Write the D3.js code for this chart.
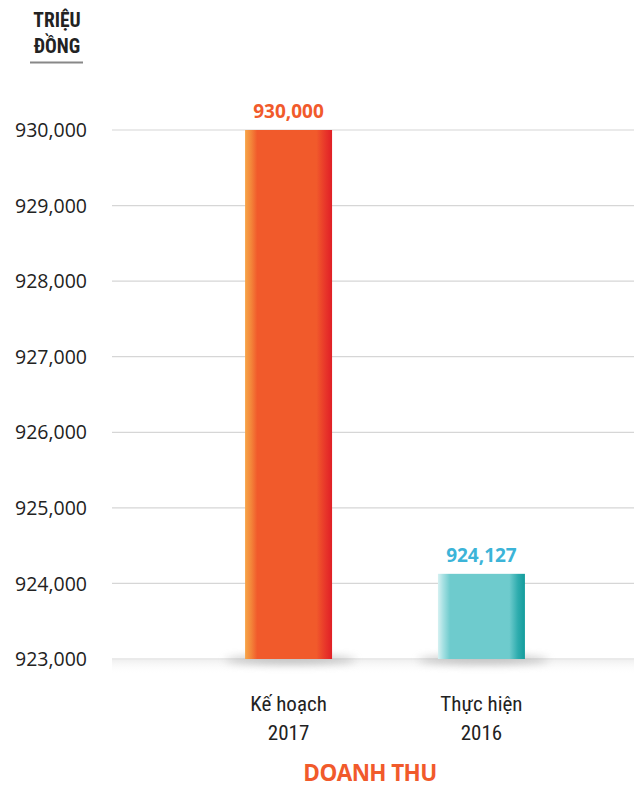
<!DOCTYPE html>
<html>
<head>
<meta charset="utf-8">
<script src="https://cdn.jsdelivr.net/npm/d3@7"></script>
<style>
  html, body { margin: 0; padding: 0; background: #fff; }
  svg { display: block; }
</style>
</head>
<body>
<svg id="chart" width="634" height="787"></svg>
<script>
// Revenue: 2017 plan vs 2016 actual (million VND)
const categories = [["Kế hoạch", "2017"], ["Thực hiện", "2016"]];
const values = [930000, 924127];
const tickValues = [923000, 924000, 925000, 926000, 927000, 928000, 929000, 930000];
const labelColors = ["#f15a2b", "#3cb4d8"];
const unitLabel = ["TRIỆU", "ĐỒNG"];
const title = "DOANH THU";

const svg = d3.select("#chart");
const W = 634, H = 787;
const narrow = "'Liberation Sans Narrow', 'Roboto Condensed', 'DejaVu Sans Condensed', sans-serif";
const regular = "'Open Sans', 'Noto Sans', sans-serif";

const x = d3.scaleBand().domain(d3.range(categories.length)).range([139, 631]).paddingInner(0.549).paddingOuter(0.55);
const y = d3.scaleLinear().domain([923000, 930000]).range([659, 130]);

const defs = svg.append("defs");
const g1 = defs.append("linearGradient").attr("id", "gradOrange");
[["0%", "#f7a448"], ["7%", "#f3853a"], ["14%", "#f15a2b"], ["82%", "#f15a2b"], ["92%", "#e8372a"], ["100%", "#e01f26"]]
  .forEach(([o, c]) => g1.append("stop").attr("offset", o).attr("stop-color", c));
const g2 = defs.append("linearGradient").attr("id", "gradTeal");
[["0%", "#d6f1f2"], ["6%", "#a5e0e2"], ["14%", "#6ecbcd"], ["82%", "#6ecbcd"], ["92%", "#2eacae"], ["100%", "#139c9c"]]
  .forEach(([o, c]) => g2.append("stop").attr("offset", o).attr("stop-color", c));
const fills = ["url(#gradOrange)", "url(#gradTeal)"];

const blur = defs.append("filter").attr("id", "soft").attr("x", "-50%").attr("y", "-200%").attr("width", "200%").attr("height", "500%");
blur.append("feGaussianBlur").attr("stdDeviation", 4);
const shade = defs.append("linearGradient").attr("id", "floor").attr("x1", 0).attr("x2", 0).attr("y1", 0).attr("y2", 1);
shade.append("stop").attr("offset", "0%").attr("stop-color", "#e6e6e6").attr("stop-opacity", 1);
shade.append("stop").attr("offset", "100%").attr("stop-color", "#ffffff").attr("stop-opacity", 0);

// Gridlines and axis labels
const axis = d3.axisLeft(y).tickValues(tickValues).tickSize(0).tickPadding(0).tickFormat(d3.format(","));
const ax = svg.append("g").attr("transform", "translate(87,0)").call(axis);
ax.select(".domain").remove();
ax.selectAll("text").attr("font-family", regular).attr("font-size", 19.5).attr("fill", "#222").attr("dy", "0.34em");

svg.append("g").selectAll("line").data(tickValues).join("line")
  .attr("x1", 112).attr("x2", W).attr("y1", d => y(d)).attr("y2", d => y(d))
  .attr("stroke", "#d6d6d6").attr("stroke-width", 1.2);

// Soft floor under the baseline
svg.append("rect").attr("x", 112).attr("y", y(923000) + 1).attr("width", W - 112).attr("height", 14).attr("fill", "url(#floor)").attr("opacity", 0.6);

// Bar shadows
svg.append("g").selectAll("ellipse").data(values).join("ellipse")
  .attr("cx", (d, i) => x(i) + x.bandwidth() / 2 + 2)
  .attr("cy", y(923000) + 1)
  .attr("rx", x.bandwidth() * 0.75).attr("ry", 4)
  .attr("fill", "#8a8a8a").attr("opacity", 0.55).attr("filter", "url(#soft)");

// Bars
svg.append("g").selectAll("rect").data(values).join("rect")
  .attr("x", (d, i) => x(i)).attr("width", x.bandwidth())
  .attr("y", d => y(d)).attr("height", d => y(923000) - y(d))
  .attr("fill", (d, i) => fills[i]);

// Value labels
svg.append("g").selectAll("text").data(values).join("text")
  .attr("x", (d, i) => x(i) + x.bandwidth() / 2)
  .attr("y", d => y(d) - 12)
  .attr("text-anchor", "middle")
  .attr("font-family", regular).attr("font-weight", 700).attr("font-size", 19)
  .attr("fill", (d, i) => labelColors[i])
  .text(d => d3.format(",")(d));

// Category labels
const cat = svg.append("g").selectAll("text").data(categories).join("text")
  .attr("text-anchor", "middle")
  .attr("font-family", narrow).attr("font-size", 21).attr("fill", "#222");
cat.append("tspan").attr("x", (d, i) => x(i) + x.bandwidth() / 2).attr("y", 711).text(d => d[0]);
cat.append("tspan").attr("x", (d, i) => x(i) + x.bandwidth() / 2).attr("y", 740).text(d => d[1]);

// Unit label
const unit = svg.append("text").attr("font-family", narrow).attr("font-weight", 700).attr("font-size", 19.5).attr("fill", "#222").attr("text-anchor", "middle");
unit.append("tspan").attr("x", 57).attr("y", 27).text(unitLabel[0]);
unit.append("tspan").attr("x", 57).attr("y", 53).text(unitLabel[1]);
svg.append("line").attr("x1", 30).attr("x2", 83).attr("y1", 62.5).attr("y2", 62.5).attr("stroke", "#888").attr("stroke-width", 2);

// Chart title
svg.append("text").attr("x", 370).attr("y", 781).attr("text-anchor", "middle")
  .attr("font-family", regular).attr("font-weight", 700).attr("font-size", 22.5).attr("letter-spacing", -0.6)
  .attr("fill", "#f15a2b").text(title);
</script>
</body>
</html>
